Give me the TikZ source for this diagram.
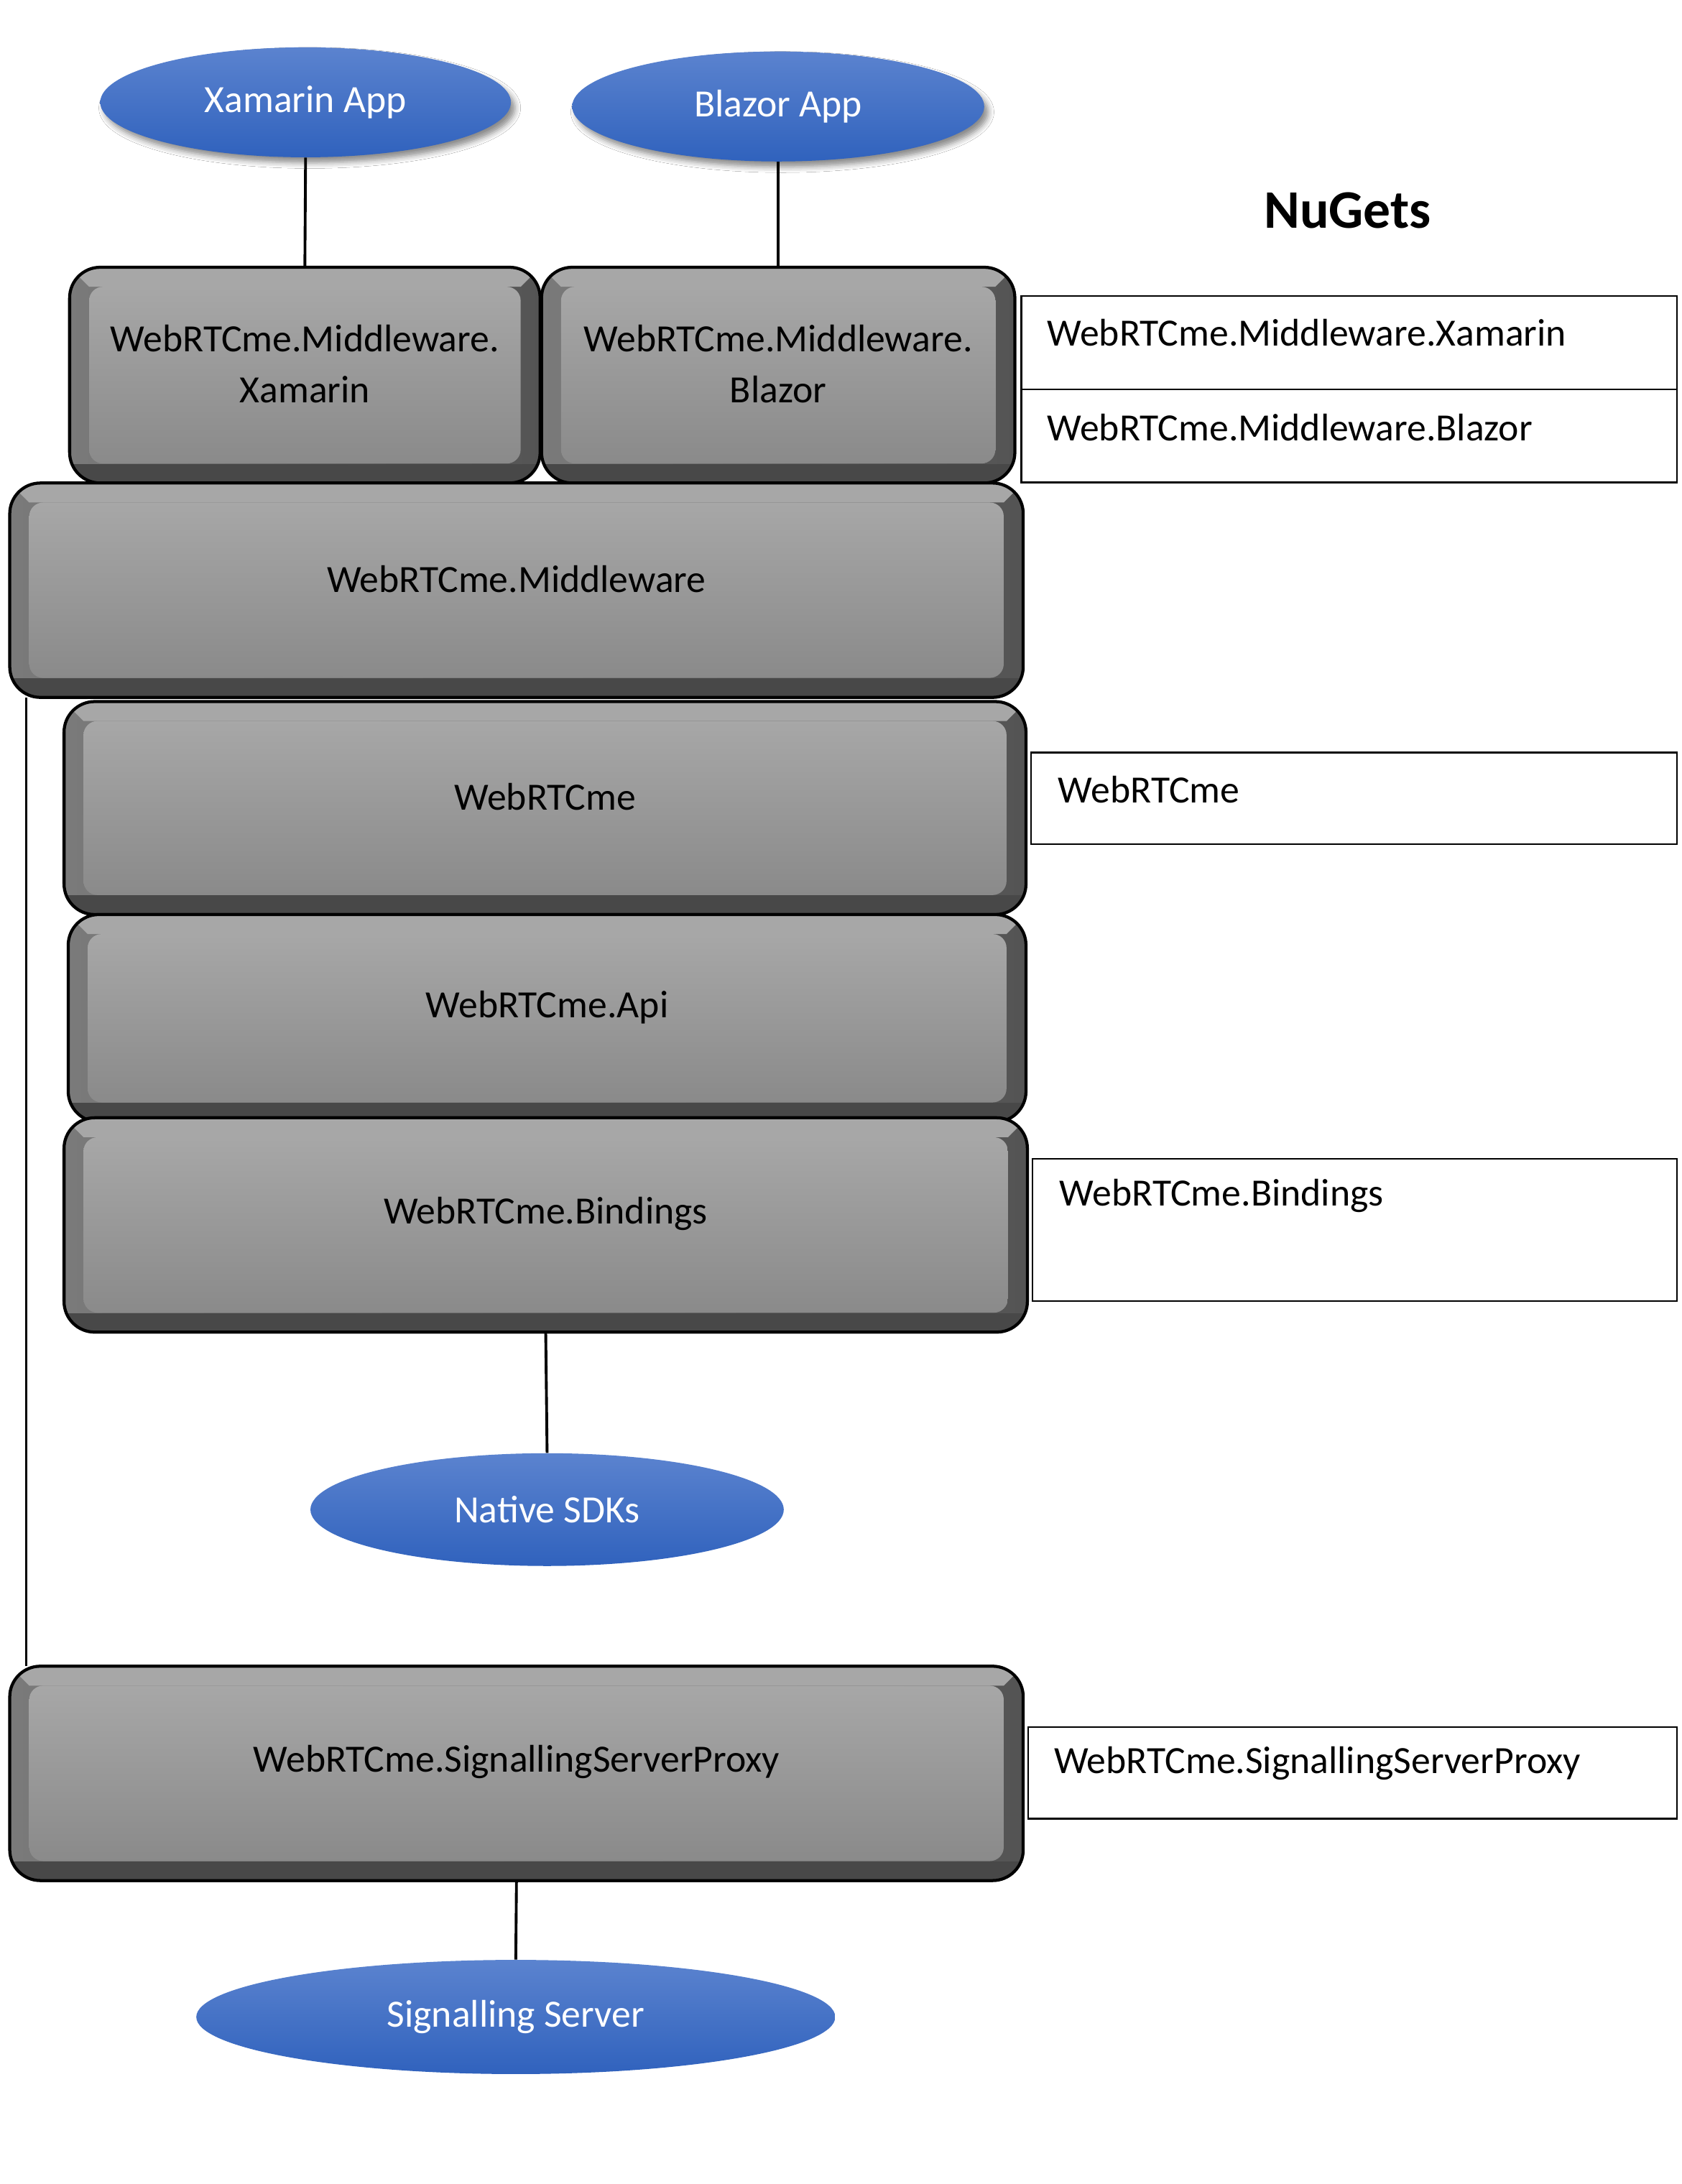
\documentclass[tikz,border=0pt]{standalone}
\usepackage{fontspec}
\setmainfont{Carlito}
\usetikzlibrary{shapes.geometric,shadows.blur}
\definecolor{blueT}{HTML}{5B83CF}
\definecolor{blueB}{HTML}{3062BD}
\definecolor{faceT}{HTML}{A7A7A7}
\definecolor{faceB}{HTML}{8A8A8A}
\definecolor{bevL}{HTML}{7A7A7A}
\definecolor{bevR}{HTML}{545454}
\definecolor{bevB}{HTML}{484848}
\newcommand\fsz{\fontsize{27.7}{37}\selectfont}
\newcommand\bevelbox[6]{%
  \node[inner sep=0,minimum width={#4-#2},minimum height={#5-#3}] (#1) at ({(#2+#4)/2},{(#3+#5)/2}) {};
  \begin{scope}
    \clip[rounded corners=22] (#2,#3) rectangle (#4,#5);
    \fill[bevB] (#2,#3) rectangle (#4,#5);
    \shade[left color=bevL,right color=bevR] (#2,#3) rectangle (#4,#5-14);
    \fill[faceT] (#2,#3) -- (#4,#3) -- (#4-14,#3+14) -- (#2+14,#3+14) -- cycle;
  \end{scope}
  \shade[top color=faceT,bottom color=faceB,rounded corners=10] (#2+14,#3+14) rectangle (#4-14,#5-14);
  \draw[line width=2.2,rounded corners=22] (#2,#3) rectangle (#4,#5);
  \node[boxtext] (#1-t) at ({(#2+#4)/2},{(#3+#5)/2-8}) {#6};
}
\tikzset{
  boxtext/.style={font=\fsz,align=center,inner sep=0,text=black},
  blueell/.style={ellipse,inner sep=0,top color=blueT,bottom color=blueB,draw=none,text=white,font=\fsz},
  shadowed/.style={blur shadow={shadow xshift=3pt,shadow yshift=-4pt,shadow blur radius=4pt,shadow opacity=45}},
  nugetbox/.style={draw,line width=1.2,inner sep=0,anchor=north west,fill=white},
  nugettext/.style={font=\fsz,anchor=west,inner sep=0},
  conn/.style={line width=2}
}
\begin{document}
\begin{tikzpicture}[x=1pt,y=-1pt]
\useasboundingbox[fill=white] (0,0) rectangle (1208,1569);
% ellipses
\node[blueell,shadowed,minimum width=295,minimum height=79] (xam) at (219.5,73.5) {Xamarin App};
\node[blueell,shadowed,minimum width=296,minimum height=79] (bla) at (559,76.5) {Blazor App};
\node[blueell,minimum width=340,minimum height=81] (nat) at (393,1084.5) {Native SDKs};
\node[blueell,minimum width=459,minimum height=82] (sig) at (370.5,1449) {Signalling Server};
% title
\node[font=\fontsize{39}{46}\selectfont\bfseries,inner sep=0] (nuget) at (968,151) {NuGets};
% bevel boxes
\bevelbox{bx}{50}{192}{388}{347}{WebRTCme.Middleware.\\Xamarin}
\bevelbox{bb}{389}{192}{729}{347}{WebRTCme.Middleware.\\Blazor}
\bevelbox{mw}{7}{347}{735}{501}{WebRTCme.Middleware}
\bevelbox{core}{46}{504}{737}{657}{WebRTCme}
\bevelbox{api}{49}{657}{737}{806}{WebRTCme.Api}
\bevelbox{bind}{46}{803}{738}{957}{WebRTCme.Bindings}
\bevelbox{ssp}{7}{1197}{735}{1351}{WebRTCme.SignallingServerProxy}
% connectors
\coordinate (lx) at (19,0);
\draw[conn] (xam.south) -- (bx.north);
\draw[conn] (bla.south) -- (bb.north);
\draw[conn] (bind.south) -- (nat.north);
\draw[conn] (ssp.south) -- (sig.north);
\draw[line width=1.6] (mw.south -| lx) -- (ssp.north -| lx);
% nuget boxes
\node[nugetbox,minimum width=471,minimum height=67] (ng1) at (733,212) {};
\node[nugetbox,minimum width=471,minimum height=67] (ng2) at (733,279) {};
\node[nugetbox,minimum width=464,minimum height=66] (ng3) at (740,540) {};
\node[nugetbox,minimum width=463,minimum height=102] (ng4) at (741,832) {};
\node[nugetbox,minimum width=466,minimum height=66] (ng5) at (738,1240) {};
\node[nugettext] (ng1-t) at (752,239) {WebRTCme.Middleware.Xamarin};
\node[nugettext] (ng2-t) at (752,307) {WebRTCme.Middleware.Blazor};
\node[nugettext] (ng3-t) at (760,567) {WebRTCme};
\node[nugettext] (ng4-t) at (761,859) {WebRTCme.Bindings};
\node[nugettext] (ng5-t) at (757,1267) {WebRTCme.SignallingServerProxy};
\end{tikzpicture}
\end{document}
